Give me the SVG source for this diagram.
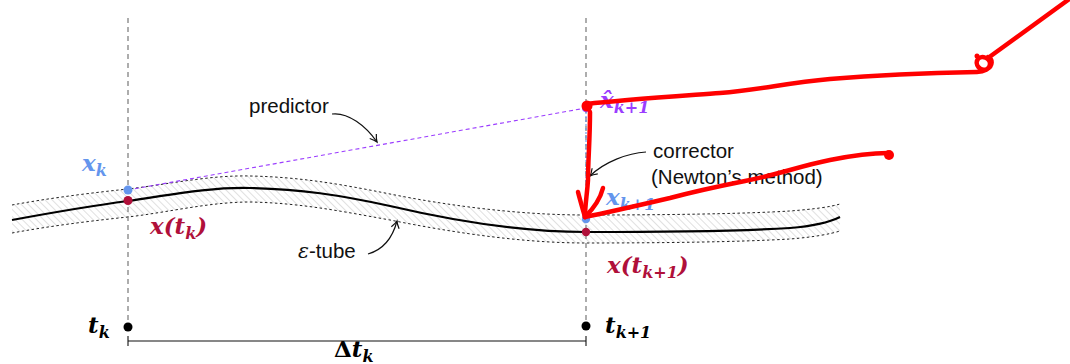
<svg xmlns="http://www.w3.org/2000/svg" width="1070" height="364" viewBox="0 0 1070 364">
<style>
.math{font-family:"DejaVu Serif","Liberation Serif",serif;font-style:italic;font-weight:bold;font-size:23px}
.sub{font-size:16px}
.up{font-style:normal}
.sans{font-family:"Liberation Sans","DejaVu Sans",sans-serif;font-size:20.5px;fill:#111}
.guide{stroke:#777;stroke-width:1.2;stroke-dasharray:5 4;fill:none}
.tube{stroke:#222;stroke-width:1;stroke-dasharray:2.5 2.5;fill:none}
.ann{stroke:#111;stroke-width:1.2;fill:none;marker-end:url(#to)}
.scr{stroke:#ff0000;stroke-width:4.5;fill:none;stroke-linecap:round;stroke-linejoin:round}
.blue{fill:#6495ED}
.red{fill:#B0103A}
.purple{fill:#9B3DFF}
</style>
<defs>
<pattern id="hatch" patternUnits="userSpaceOnUse" width="5" height="5" patternTransform="rotate(-45)">
<line x1="0" y1="0" x2="0" y2="5" stroke="#bbb" stroke-width="0.9"/>
</pattern>
<marker id="to" viewBox="-8 -5 10 10" refX="0" refY="0" markerWidth="10" markerHeight="10" markerUnits="userSpaceOnUse" orient="auto">
<path d="M-7,-4 Q-3,-1 0,0 Q-3,1 -7,4" fill="none" stroke="#111" stroke-width="1.2"/>
</marker>
</defs>
<rect width="1070" height="364" fill="#fff"/>

<g id="tube">
<path d="M12,205 C50,198 90,193 128,189 C170,184 210,175 250,176 C300,177 340,184 390,194 C450,206 520,215 586,215 C660,215 740,214 790,211 C815,209 830,207 840,204 L840,231 C830,234 815,237 790,239 C740,242 660,243 586,243 C520,243 450,232 390,220 C340,211 300,203 250,202 C210,202 170,212 128,217 C90,221 50,226 12,233 Z" fill="url(#hatch)"/>
<path class="tube" d="M12,205 C50,198 90,193 128,189 C170,184 210,175 250,176 C300,177 340,184 390,194 C450,206 520,215 586,215 C660,215 740,214 790,211 C815,209 830,207 840,204"/>
<path class="tube" d="M12,233 C50,226 90,221 128,217 C170,212 210,202 250,202 C300,203 340,211 390,220 C450,232 520,243 586,243 C660,243 740,242 790,239 C815,237 830,234 840,231"/>
</g>

<g id="guides">
<line class="guide" x1="128" y1="18" x2="128" y2="322"/>
<line class="guide" x1="586" y1="18" x2="586" y2="322"/>
</g>

<g id="curve">
<path d="M12,220 C50,213 90,206 128,201 C170,195 210,187 250,188 C300,189 340,195 390,206 C450,220 520,232 586,232 C660,232 740,231 790,228 C815,226 830,222 840,217" fill="none" stroke="#000" stroke-width="2.2"/>
</g>

<g id="connectors">
<line x1="128" y1="190" x2="586" y2="108" stroke="#9B3DFF" stroke-width="1.1" stroke-dasharray="4 3"/>
<line x1="586" y1="108" x2="586" y2="219" stroke="#6495ED" stroke-width="1.1" stroke-dasharray="2 2"/>
<path class="ann" d="M332,114 C348,112 366,126 377,142"/>
<path class="ann" d="M646,152 C628,153 604,162 590,176"/>
<path class="ann" d="M368,254 C382,250 392,240 397,221"/>
<line x1="128" y1="341" x2="586" y2="341" stroke="#111" stroke-width="1.1"/>
<line x1="128" y1="336" x2="128" y2="346" stroke="#111" stroke-width="1.1"/>
<line x1="586" y1="336" x2="586" y2="346" stroke="#111" stroke-width="1.1"/>
</g>

<g id="points">
<circle class="blue" cx="128" cy="190" r="4.5"/>
<circle class="red" cx="128" cy="200.5" r="4.5"/>
<circle class="purple" cx="586" cy="108" r="4"/>
<circle class="blue" cx="586" cy="219" r="4.2"/>
<circle class="red" cx="586" cy="232" r="4.2"/>
<circle cx="128" cy="327" r="4.5" fill="#000"/>
<circle cx="586" cy="326" r="4.5" fill="#000"/>
</g>

<g id="labels">
<text class="math blue" x="82" y="171">x<tspan class="sub" dy="5">k</tspan></text>
<text class="math red" x="150" y="234">x(t<tspan class="sub" dy="5">k</tspan><tspan dy="-5">)</tspan></text>
<text class="math purple" x="600" y="108">x̂<tspan class="sub" dy="5">k+1</tspan></text>
<text class="math blue" x="606" y="205">x<tspan class="sub" dy="5">k+1</tspan></text>
<text class="math red" x="607" y="273">x(t<tspan class="sub" dy="5">k+1</tspan><tspan dy="-5">)</tspan></text>
<text class="math" x="88" y="333" fill="#000">t<tspan class="sub" dy="5">k</tspan></text>
<text class="math" x="605" y="333" fill="#000">t<tspan class="sub" dy="5">k+1</tspan></text>
<text class="math" x="334" y="357" fill="#000"><tspan class="up">Δ</tspan>t<tspan class="sub" dy="5">k</tspan></text>
<text class="sans" x="249" y="113">predictor</text>
<text class="sans" x="653" y="158">corrector</text>
<text class="sans" x="651" y="184">(Newton’s method)</text>
<text class="sans" x="298" y="258"><tspan font-family="DejaVu Serif, serif" font-style="italic">ε</tspan>-tube</text>
</g>

<g id="scribbles">
<circle cx="587" cy="106" r="5.5" fill="#ff0000"/>
<path class="scr" d="M587,104 C620,100 680,96 720,93 C760,90 785,83 830,79 C880,75 930,73 977,72 C984,72 990,69 990,64 C990,58 982,55 978,59 C974,64 980,72 987,69 C993,66 993,59 988,57 M988,58 L1068,0"/>
<circle cx="977" cy="56" r="2.5" fill="#ff0000"/>
<path class="scr" d="M590,112 C590,140 588,160 588,180 C587,195 585,205 585,217"/>
<path class="scr" d="M578,192 C580,200 583,210 585,217"/>
<path class="scr" d="M603,188 C600,200 592,210 585,217"/>
<path class="scr" d="M585,217 C610,212 640,205 670,198 C700,190 720,186 745,181 C780,174 800,166 830,160 C850,156 870,153 888,153"/>
<circle cx="889" cy="155" r="5" fill="#ff0000"/>
</g>
</svg>
